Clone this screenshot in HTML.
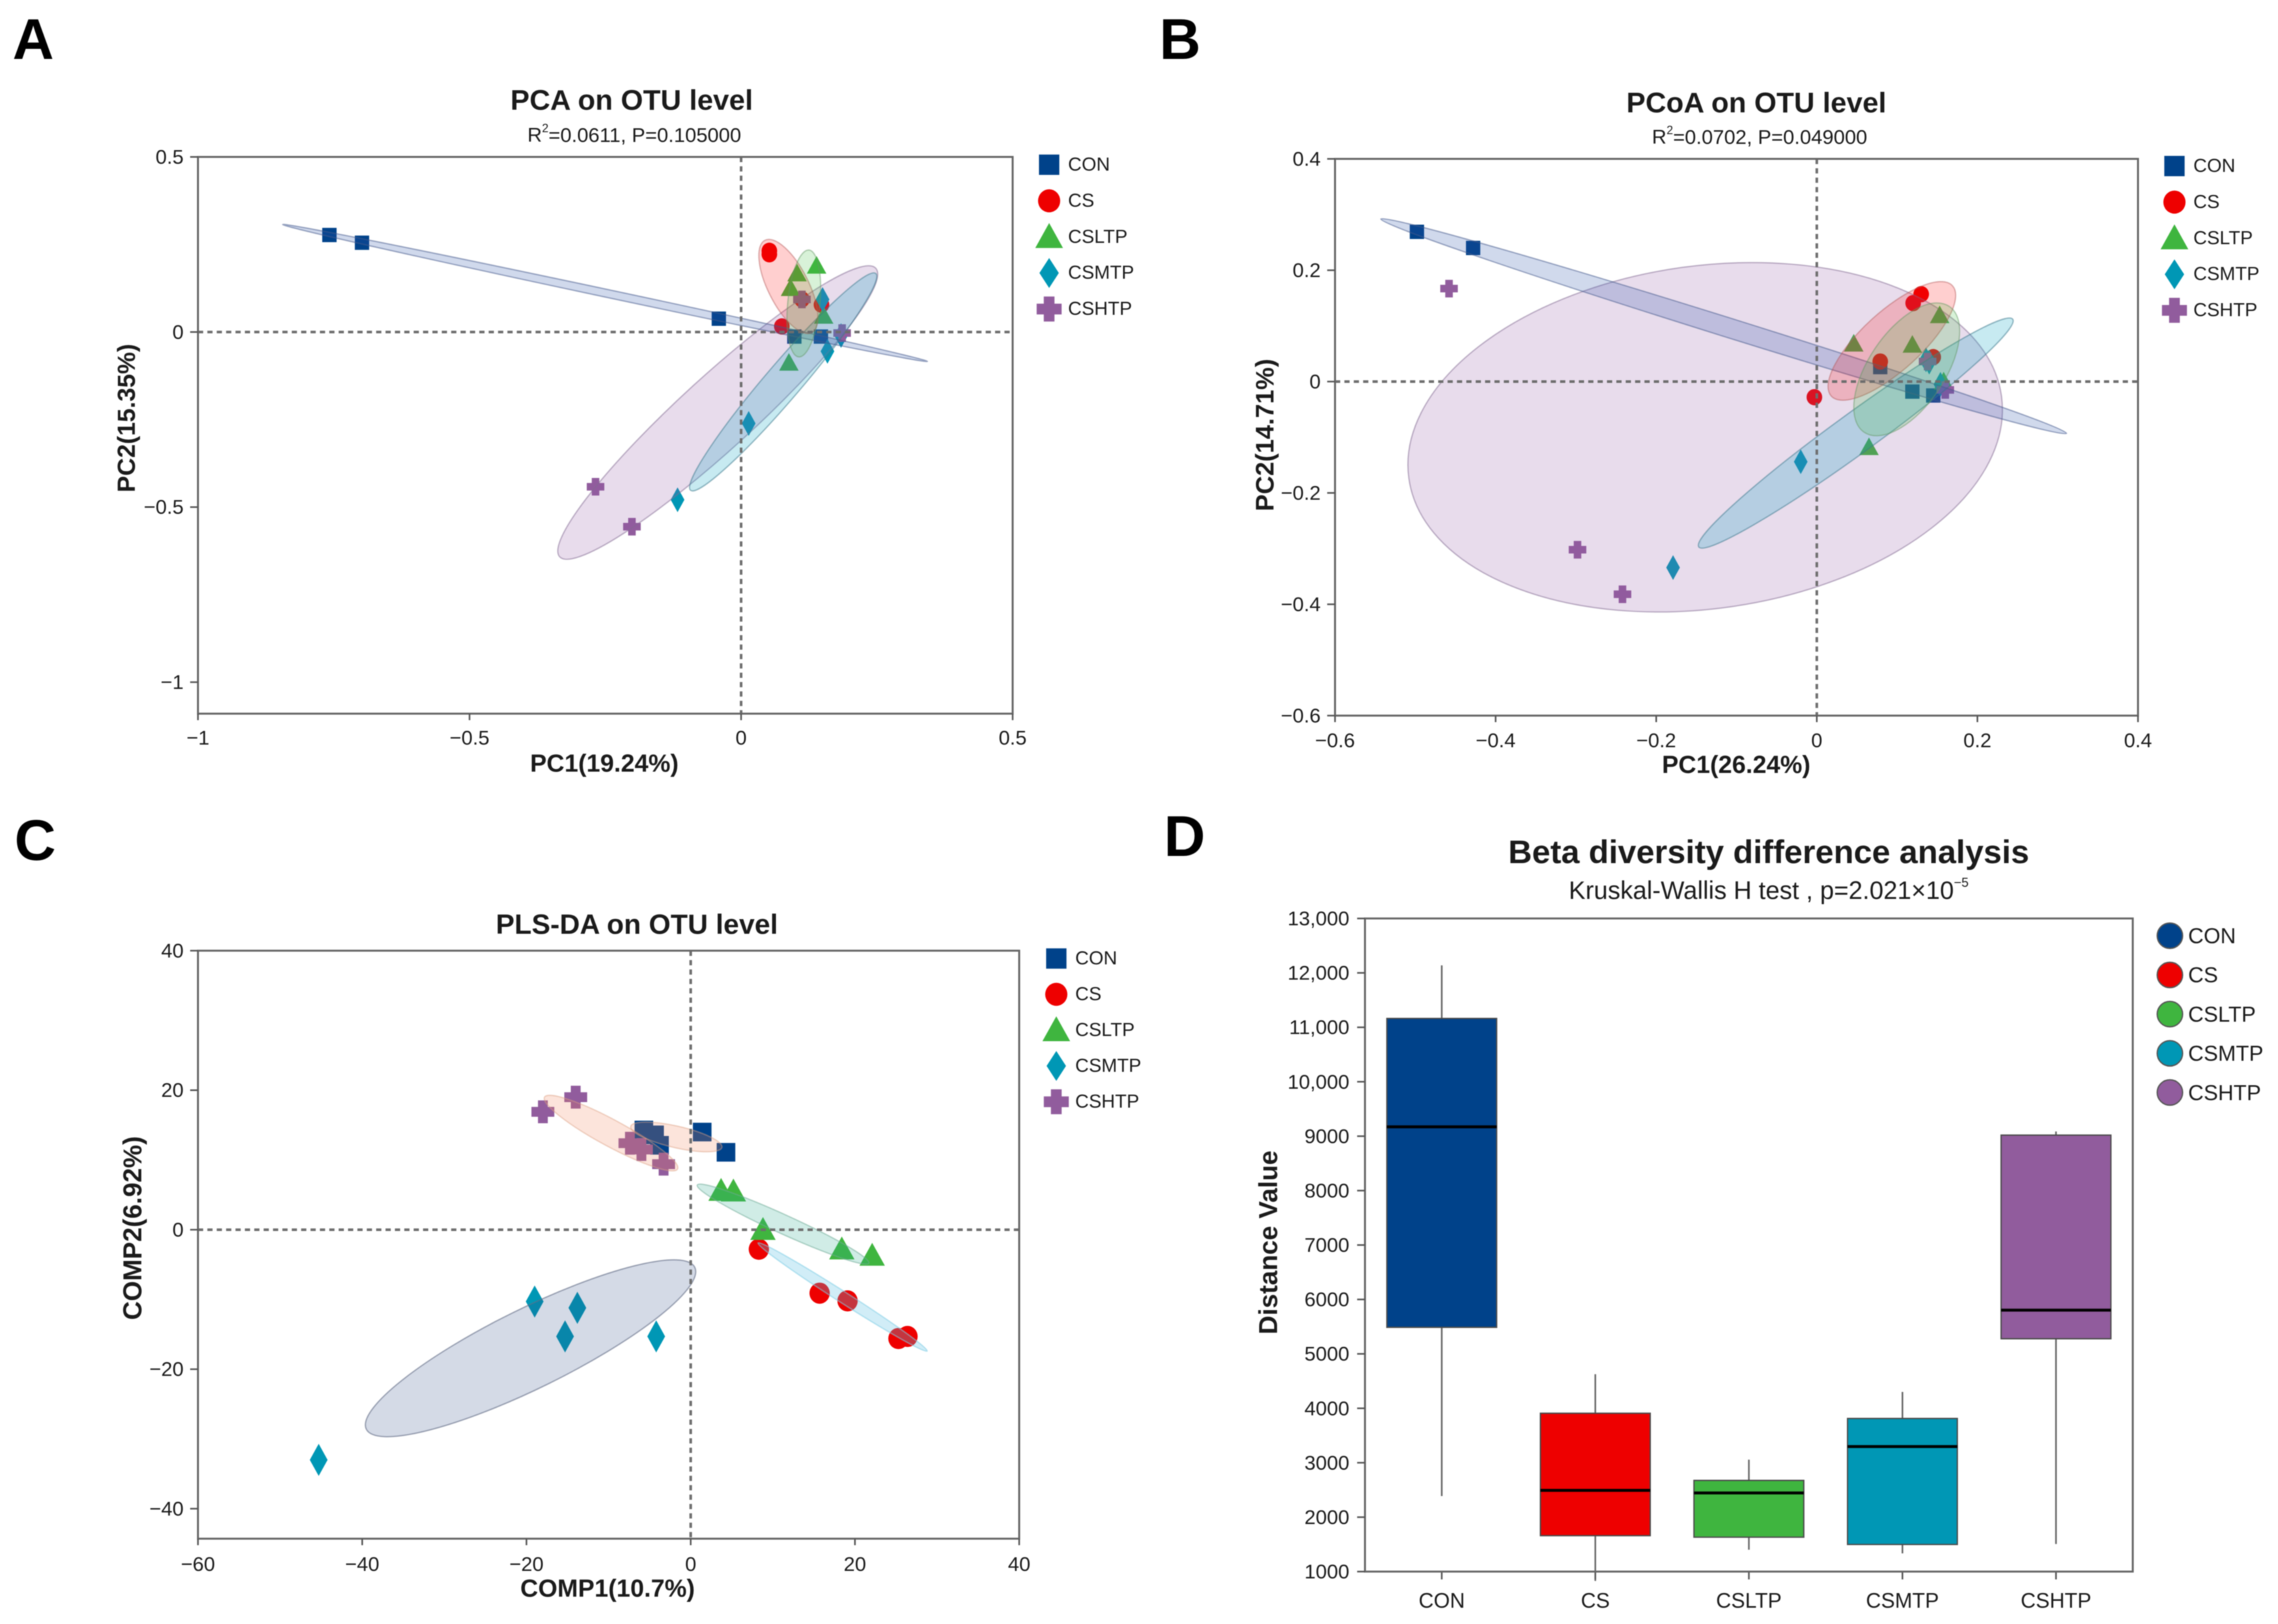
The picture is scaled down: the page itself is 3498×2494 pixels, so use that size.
<!DOCTYPE html>
<html lang="en">
<head>
<meta charset="utf-8">
<title>Beta diversity figure</title>
<style>
html,body{margin:0;padding:0;background:#fff;}
svg{display:block;filter:blur(0.8px);}
text{font-family:"Liberation Sans",sans-serif;fill:#1a1a1a;}
</style>
</head>
<body>
<svg id="fig" xmlns="http://www.w3.org/2000/svg" width="3498" height="2494" viewBox="0 0 3498 2494">
<rect width="3498" height="2494" fill="#fff"/>
<g font-weight="bold" font-size="88" style="fill:#000" dominant-baseline="central">
<text x="51" y="60" text-anchor="middle" style="fill:#000">A</text>
<text x="1812" y="60" text-anchor="middle" style="fill:#000">B</text>
<text x="54" y="1290" text-anchor="middle" style="fill:#000">C</text>
<text x="1819" y="1284" text-anchor="middle" style="fill:#000">D</text>
</g>
<g dominant-baseline="central" text-anchor="middle">
<text x="970" y="154" font-size="44" font-weight="bold">PCA on OTU level</text>
<text x="974" y="207" font-size="31">R<tspan font-size="18" dy="-10">2</tspan><tspan dy="10">=0.0611, P=0.105000</tspan></text>
<text x="928" y="1173" font-size="38" font-weight="bold">PC1(19.24%)</text>
<text transform="translate(195 642) rotate(-90)" font-size="38" font-weight="bold">PC2(15.35%)</text>
<text x="2697" y="158" font-size="44" font-weight="bold">PCoA on OTU level</text>
<text x="2702" y="210" font-size="31">R<tspan font-size="18" dy="-10">2</tspan><tspan dy="10">=0.0702, P=0.049000</tspan></text>
<text x="2666" y="1175" font-size="38" font-weight="bold">PC1(26.24%)</text>
<text transform="translate(1943 668) rotate(-90)" font-size="39" font-weight="bold">PC2(14.71%)</text>
<text x="978" y="1420" font-size="43" font-weight="bold">PLS-DA on OTU level</text>
<text x="933" y="2440" font-size="38" font-weight="bold">COMP1(10.7%)</text>
<text transform="translate(204 1886) rotate(-90)" font-size="40" font-weight="bold">COMP2(6.92%)</text>
<text x="2716" y="1308" font-size="50.5" font-weight="bold">Beta diversity difference analysis</text>
<text x="2716" y="1368" font-size="38.5">Kruskal-Wallis H test , p=2.021×10<tspan font-size="20" dy="-12">−5</tspan></text>
<text transform="translate(1948 1908) rotate(-90)" font-size="40" font-weight="bold">Distance Value</text>
</g>
<g id="panels"></g>
</svg>
<script>
// ---------- shared categories ----------
const groupNames = ['CON', 'CS', 'CSLTP', 'CSMTP', 'CSHTP'];

// ---------- Panel A: PCA ----------
const pcaXTicks = [-1, -0.5, 0, 0.5];
const pcaYTicks = [0.5, 0, -0.5, -1];
const pcaConX = [-0.758, -0.698, -0.041, 0.098, 0.147];
const pcaConY = [0.277, 0.255, 0.038, -0.013, -0.013];
const pcaCsX = [0.052, 0.052, 0.075, 0.112, 0.148];
const pcaCsY = [0.232, 0.222, 0.016, 0.093, 0.078];
const pcaLtpX = [0.139, 0.103, 0.091, 0.152, 0.088];
const pcaLtpY = [0.189, 0.167, 0.125, 0.046, -0.088];
const pcaMtpX = [0.15, 0.159, 0.014, -0.117, 0.184];
const pcaMtpY = [0.093, -0.055, -0.261, -0.479, -0.01];
const pcaHtpX = [-0.268, -0.201, 0.112, 0.186];
const pcaHtpY = [-0.442, -0.556, 0.093, -0.003];
const pcaEllipseX1 = [-0.844, 0.044, 0.125, 0.248, 0.248];
const pcaEllipseY1 = [0.307, 0.262, 0.234, 0.167, 0.182];
const pcaEllipseX2 = [0.343, 0.13, 0.106, -0.093, -0.334];
const pcaEllipseY2 = [-0.084, -0.002, -0.071, -0.452, -0.642];
const pcaEllipseRatio = [0.012, 0.39, 0.3, 0.125, 0.17];

// ---------- Panel B: PCoA ----------
const pcoaXTicks = [-0.6, -0.4, -0.2, 0, 0.2, 0.4];
const pcoaYTicks = [0.4, 0.2, 0, -0.2, -0.4, -0.6];
const pcoaConX = [-0.498, -0.428, 0.079, 0.119, 0.145];
const pcoaConY = [0.269, 0.24, 0.026, -0.018, -0.025];
const pcoaCsX = [-0.003, 0.079, 0.12, 0.13, 0.145];
const pcoaCsY = [-0.028, 0.036, 0.141, 0.157, 0.044];
const pcoaLtpX = [0.046, 0.119, 0.153, 0.065, 0.158];
const pcoaLtpY = [0.068, 0.066, 0.119, -0.118, 0];
const pcoaMtpX = [-0.02, -0.179, 0.136, 0.154, 0.14];
const pcoaMtpY = [-0.144, -0.334, 0.039, -0.005, 0.035];
const pcoaHtpX = [-0.458, -0.298, -0.242, 0.138, 0.16];
const pcoaHtpY = [0.167, -0.302, -0.382, 0.036, -0.015];
const pcoaEllipseX1 = [-0.543, 0.018, 0.165, 0.244, 0.23];
const pcoaEllipseY1 = [0.292, -0.026, 0.135, 0.112, -0.026];
const pcoaEllipseX2 = [0.311, 0.169, 0.059, -0.147, -0.508];
const pcoaEllipseY2 = [-0.093, 0.172, -0.091, -0.297, -0.174];
const pcoaEllipseRatio = [0.027, 0.36, 0.5, 0.104, 0.573];

// ---------- Panel C: PLS-DA ----------
const plsXTicks = [-60, -40, -20, 0, 20, 40];
const plsYTicks = [40, 20, 0, -20, -40];
const plsConX = [-5.7, -4.4, -3.8, 1.4, 4.3];
const plsConY = [14.3, 13.6, 12.1, 14, 11.1];
const plsCsX = [8.3, 15.7, 19.1, 25.3, 26.4];
const plsCsY = [-2.8, -9.1, -10.2, -15.6, -15.3];
const plsLtpX = [3.7, 5.2, 8.8, 18.4, 22.1];
const plsLtpY = [5.6, 5.5, 0, -2.8, -3.7];
const plsMtpX = [-19, -13.8, -15.3, -4.2, -45.3];
const plsMtpY = [-10.3, -11.2, -15.3, -15.3, -33];
const plsHtpX = [-18, -14, -7.4, -6, -3.3];
const plsHtpY = [16.9, 19, 12.4, 11.5, 9.4];
const plsEllipseX1 = [-7.3, 8.2, 0.8, 0.5, -17.8];
const plsEllipseY1 = [14.8, -1.9, 6.4, -5.4, 19];
const plsEllipseX2 = [3.8, 28.8, 21.7, -39.5, -1.6];
const plsEllipseY2 = [11.8, -17.4, -4.8, -28.6, 8.7];
const plsEllipseRatio = [0.23, 0.055, 0.1, 0.217, 0.175];

// ---------- Panel D: box plot ----------
const boxYTicks = [1000, 2000, 3000, 4000, 5000, 6000, 7000, 8000, 9000, 10000, 11000, 12000, 13000];
const boxWhiskerHigh = [12139, 4627, 3057, 4301, 9086];
const boxQ3 = [11163, 3909, 2675, 3813, 9019];
const boxMedian = [9172, 2493, 2445, 3297, 5804];
const boxQ1 = [5488, 1660, 1632, 1498, 5278];
const boxWhiskerLow = [2388, 828, 1402, 1335, 1507];

// ---------- rendering ----------
const SVGNS = 'http://www.w3.org/2000/svg';
const root = document.getElementById('panels');
const markerColors = ['#00428a', '#ee0000', '#3fb53f', '#0097b5', '#915c9d'];

function el(parent, tag, attrs, txt) {
  const n = document.createElementNS(SVGNS, tag);
  for (const k in attrs) n.setAttribute(k, attrs[k]);
  if (txt !== undefined) n.textContent = txt;
  parent.appendChild(n);
  return n;
}
function fmt(v) {
  let s = String(Math.abs(v));
  if (Math.abs(v) >= 10000) s = s.replace(/(\d)(\d{3})$/, '$1,$2');
  return (v < 0 ? '−' : '') + s;
}
function drawMarker(parent, idx, x, y, k, isLegend) {
  const c = markerColors[idx];
  let n;
  if (idx === 0) {
    n = el(parent, 'rect', {x: x - 11 * k, y: y - 11 * k, width: 22 * k, height: 22 * k, fill: c});
  } else if (idx === 1) {
    n = el(parent, 'ellipse', {cx: x, cy: y, rx: 12 * k, ry: 12.5 * k, fill: c});
  } else if (idx === 2) {
    n = el(parent, 'polygon', {points: [x, y - 15 * k, x + 15 * k, y + 12 * k, x - 15 * k, y + 12 * k].join(' '), fill: c});
  } else if (idx === 3) {
    const h = isLegend ? 23 : 19 * k;
    n = el(parent, 'polygon', {points: [x, y - h, x + 10.5 * k, y, x, y + h, x - 10.5 * k, y].join(' '), fill: c});
  } else {
    const a = 13.5 * k, b = 5.8 * k;
    n = el(parent, 'polygon', {points: [x - b, y - a, x + b, y - a, x + b, y - b, x + a, y - b, x + a, y + b, x + b, y + b, x + b, y + a, x - b, y + a, x - b, y + b, x - a, y + b, x - a, y - b, x - b, y - b].join(' '), fill: c});
  }
  return n;
}
function drawFrame(g, cfg) {
  const f = el(g, 'rect', {x: cfg.left, y: cfg.top, width: cfg.right - cfg.left, height: cfg.bottom - cfg.top, fill: 'none', stroke: '#666', 'stroke-width': 3});
  
  
}
const ellipseOrder = [4, 3, 0, 1, 2];
function drawScatter(cfg) {
  const g = el(root, 'g', {});
  
  
  const sx = v => cfg.left + (v - cfg.xMin) / (cfg.xMax - cfg.xMin) * (cfg.right - cfg.left);
  const sy = v => cfg.bottom - (v - cfg.yMin) / (cfg.yMax - cfg.yMin) * (cfg.bottom - cfg.top);
  cfg.seriesX.forEach((xs, i) => {
    xs.forEach((xv, j) => {
      const m = drawMarker(g, i, sx(xv), sy(cfg.seriesY[i][j]), cfg.markerScale, false);
      
      
    });
  });
  ellipseOrder.forEach(i => {
    const px1 = sx(cfg.ellX1[i]), py1 = sy(cfg.ellY1[i]), px2 = sx(cfg.ellX2[i]), py2 = sy(cfg.ellY2[i]);
    const a = Math.hypot(px2 - px1, py2 - py1) / 2;
    const ang = Math.atan2(py2 - py1, px2 - px1) * 180 / Math.PI;
    const cx = (px1 + px2) / 2, cy = (py1 + py2) / 2;
    const e = el(g, 'ellipse', {cx: cx, cy: cy, rx: a, ry: a * cfg.ellRatio[i], transform: 'rotate(' + ang + ' ' + cx + ' ' + cy + ')', fill: cfg.ellFill[i], stroke: cfg.ellStroke[i], 'stroke-width': 2});
    
    
  });
  const z1 = el(g, 'line', {x1: cfg.left, x2: cfg.right, y1: sy(0), y2: sy(0), stroke: '#6d6d6d', 'stroke-width': 4, 'stroke-dasharray': '8 6.4'});
  
  
  const z2 = el(g, 'line', {x1: sx(0), x2: sx(0), y1: cfg.top, y2: cfg.bottom, stroke: '#6d6d6d', 'stroke-width': 4, 'stroke-dasharray': '8 6.4'});
  
  
  drawFrame(g, cfg);
  cfg.xTicks.forEach(v => {
    const t = el(g, 'line', {x1: sx(v), x2: sx(v), y1: cfg.bottom, y2: cfg.bottom + 10, stroke: '#555', 'stroke-width': 2.5});
    
    
    const l = el(g, 'text', {x: sx(v), y: cfg.xLabelY, 'font-size': 31, 'text-anchor': 'middle', 'dominant-baseline': 'central'}, fmt(v));
    
    
  });
  cfg.yTicks.forEach(v => {
    const t = el(g, 'line', {x1: cfg.left - 12, x2: cfg.left, y1: sy(v), y2: sy(v), stroke: '#555', 'stroke-width': 2.5});
    
    
    const l = el(g, 'text', {x: cfg.yLabelX, y: sy(v), 'font-size': 31, 'text-anchor': 'end', 'dominant-baseline': 'central'}, fmt(v));
    
    
  });
  groupNames.forEach((name, i) => {
    const ly = cfg.legendY + i * cfg.legendStep;
    const m = drawMarker(g, i, cfg.legendX, ly, 1.42, true);
    
    
    const l = el(g, 'text', {x: cfg.legendX + 29, y: ly, 'font-size': 29, 'dominant-baseline': 'central'}, name);
    
    
  });
}

const strokeGray = ['rgba(70,90,140,.5)', 'rgba(180,90,90,.45)', 'rgba(100,150,100,.45)', 'rgba(60,120,140,.5)', 'rgba(130,105,145,.5)'];
const fillA = ['rgba(40,80,170,.22)', 'rgba(255,0,0,.19)', 'rgba(60,190,60,.2)', 'rgba(0,160,190,.22)', 'rgba(145,92,167,.21)'];

drawScatter({
  name: 'pca-chart', left: 304, right: 1555, top: 241, bottom: 1096,
  xMin: -1, xMax: 0.5, yMin: -1.09, yMax: 0.5,
  xTicks: pcaXTicks, yTicks: pcaYTicks, xLabelY: 1133, yLabelX: 282,
  seriesX: [pcaConX, pcaCsX, pcaLtpX, pcaMtpX, pcaHtpX],
  seriesY: [pcaConY, pcaCsY, pcaLtpY, pcaMtpY, pcaHtpY],
  ellX1: pcaEllipseX1, ellY1: pcaEllipseY1, ellX2: pcaEllipseX2, ellY2: pcaEllipseY2, ellRatio: pcaEllipseRatio,
  ellFill: fillA, ellStroke: strokeGray,
  markerScale: 1, legendX: 1611, legendY: 253, legendStep: 55.4
});
drawScatter({
  name: 'pcoa-chart', left: 2050, right: 3283, top: 244, bottom: 1099,
  xMin: -0.6, xMax: 0.4, yMin: -0.6, yMax: 0.4,
  xTicks: pcoaXTicks, yTicks: pcoaYTicks, xLabelY: 1137, yLabelX: 2028,
  seriesX: [pcoaConX, pcoaCsX, pcoaLtpX, pcoaMtpX, pcoaHtpX],
  seriesY: [pcoaConY, pcoaCsY, pcoaLtpY, pcoaMtpY, pcoaHtpY],
  ellX1: pcoaEllipseX1, ellY1: pcoaEllipseY1, ellX2: pcoaEllipseX2, ellY2: pcoaEllipseY2, ellRatio: pcoaEllipseRatio,
  ellFill: fillA, ellStroke: strokeGray,
  markerScale: 1, legendX: 3339, legendY: 255, legendStep: 55.4
});
drawScatter({
  name: 'plsda-chart', left: 304, right: 1565, top: 1460, bottom: 2363,
  xMin: -60, xMax: 40, yMin: -44.3, yMax: 40,
  xTicks: plsXTicks, yTicks: plsYTicks, xLabelY: 2402, yLabelX: 282,
  seriesX: [plsConX, plsCsX, plsLtpX, plsMtpX, plsHtpX],
  seriesY: [plsConY, plsCsY, plsLtpY, plsMtpY, plsHtpY],
  ellX1: plsEllipseX1, ellY1: plsEllipseY1, ellX2: plsEllipseX2, ellY2: plsEllipseY2, ellRatio: plsEllipseRatio,
  ellFill: ['rgba(240,130,90,.22)', 'rgba(90,190,225,.28)', 'rgba(40,170,140,.22)', 'rgba(40,70,130,.2)', 'rgba(240,130,90,.22)'],
  ellStroke: ['rgba(220,160,130,.45)', 'rgba(130,205,230,.55)', 'rgba(110,170,150,.5)', 'rgba(100,110,135,.6)', 'rgba(220,160,130,.45)'],
  markerScale: 1.3, legendX: 1622, legendY: 1472, legendStep: 55
});

(function drawBox() {
  const left = 2096, right = 3275, top = 1410.5, bottom = 2413.5;
  const yMin = 1000, yMax = 13000;
  const g = el(root, 'g', {});
  
  
  const band = (right - left) / groupNames.length;
  const sx = i => left + band * (i + 0.5);
  const sy = v => bottom - (v - yMin) / (yMax - yMin) * (bottom - top);
  const boxW = band * 0.715;
  groupNames.forEach((name, i) => {
    const w = el(g, 'line', {x1: sx(i), x2: sx(i), y1: sy(boxWhiskerHigh[i]), y2: sy(boxWhiskerLow[i]), stroke: '#666', 'stroke-width': 2.5});
    
    
    const b = el(g, 'rect', {x: sx(i) - boxW / 2, y: sy(boxQ3[i]), width: boxW, height: sy(boxQ1[i]) - sy(boxQ3[i]), fill: markerColors[i], stroke: '#4a4a4a', 'stroke-width': 2});
    
    
    const m = el(g, 'line', {x1: sx(i) - boxW / 2, x2: sx(i) + boxW / 2, y1: sy(boxMedian[i]), y2: sy(boxMedian[i]), stroke: '#000', 'stroke-width': 4.5});
    
    
    const t = el(g, 'line', {x1: sx(i), x2: sx(i), y1: bottom, y2: bottom + 12, stroke: '#555', 'stroke-width': 2.5});
    
    
    const l = el(g, 'text', {x: sx(i), y: 2458, 'font-size': 32, 'text-anchor': 'middle', 'dominant-baseline': 'central'}, name);
    
    
    const ly = 1437 + i * 60.2;
    const c = el(g, 'circle', {cx: 3332, cy: ly, r: 19.5, fill: markerColors[i], stroke: '#555', 'stroke-width': 2});
    
    
    const lt = el(g, 'text', {x: 3360, y: ly, 'font-size': 33, 'dominant-baseline': 'central'}, name);
    
    
  });
  drawFrame(g, {left: left, right: right, top: top, bottom: bottom});
  boxYTicks.forEach(v => {
    const t = el(g, 'line', {x1: left - 12, x2: left, y1: sy(v), y2: sy(v), stroke: '#555', 'stroke-width': 2.5});
    
    
    const l = el(g, 'text', {x: 2072, y: sy(v), 'font-size': 31, 'text-anchor': 'end', 'dominant-baseline': 'central'}, fmt(v));
    
    
  });
})();
</script>
</body>
</html>
